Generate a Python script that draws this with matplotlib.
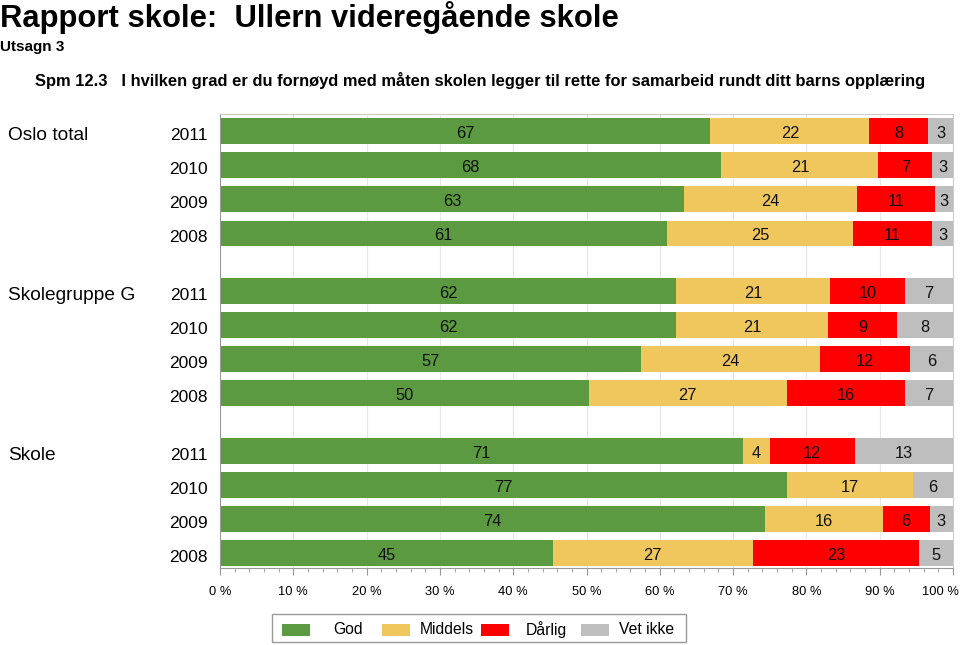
import matplotlib
matplotlib.use("Agg")
import matplotlib.pyplot as plt
from matplotlib.patches import Rectangle
from matplotlib.transforms import ScaledTranslation
import numpy as np

plt.rcParams['font.family'] = ['Liberation Sans', 'DejaVu Sans']

groups = ["Oslo total", "Skolegruppe G", "Skole"]
years = ["2011", "2010", "2009", "2008"]
series = ["God", "Middels", "Dårlig", "Vet ikke"]
colors = ["#5b9a41", "#f0c75c", "#ff0000", "#bebebe"]

# rows: Oslo 2011..2008, Skolegruppe 2011..2008, Skole 2011..2008
god      = [66.9, 68.4, 63.3, 61.0, 62.2, 62.2, 57.4, 50.3, 71.3, 77.4, 74.3, 45.4]
middels  = [21.7, 21.4, 23.6, 25.3, 21.0, 20.8, 24.4, 27.0, 3.7, 17.1, 16.1, 27.3]
darlig   = [8.0, 7.4, 10.6, 10.9, 10.3, 9.4, 12.3, 16.2, 11.6, 0.0, 6.4, 22.7]
vet_ikke = [3.4, 2.8, 2.5, 2.8, 6.5, 7.6, 5.9, 6.5, 13.4, 5.5, 3.2, 4.6]

xticks = [0, 10, 20, 30, 40, 50, 60, 70, 80, 90, 100]

title = "Rapport skole:  Ullern videregående skole"
subtitle = "Utsagn 3"
question = "Spm 12.3   I hvilken grad er du fornøyd med måten skolen legger til rette for samarbeid rundt ditt barns opplæring"

fig = plt.figure(figsize=(9.6, 6.45), dpi=100)
ax = fig.add_axes([220/960, 1-568/645, 733/960, 454/645])

# y positions
gap = 1.7
ypos = []
for g in range(len(groups)):
    for k in range(len(years)):
        ypos.append(g * (len(years) - 1 + gap) + k)
ypos = np.array(ypos)

data = [god, middels, darlig, vet_ikke]
left = np.zeros(len(ypos))
for vals, col in zip(data, colors):
    vals = np.array(vals)
    ax.barh(ypos, vals, left=left, height=0.74, color=col, edgecolor='none', zorder=2)
    for y, l, v in zip(ypos, left, vals):
        if v > 0:
            ax.text(l + v/2, y + 0.08, str(int(v + 0.5)), ha='center', va='center',
                    fontsize=11.8, color='#111111', zorder=3)
    left = left + vals

ax.set_xlim(0, 100)
ax.set_ylim(ypos[-1] + 0.44, -0.5)
ax.set_xticks(xticks)
ax.set_xticklabels([f"{t} %" for t in xticks], fontsize=9.3)
ax.set_xticks(np.arange(0, 101, 2), minor=True)
ax.tick_params(axis='x', which='major', length=5, color='#999999', pad=8)
ax.tick_params(axis='x', which='minor', length=3, color='#999999')
ax.set_yticks(ypos + 0.08)
ax.set_yticklabels(years * len(groups), fontsize=12.5)
ax.tick_params(axis='y', length=0, pad=9)
ax.grid(axis='x', which='major', color='#e8e8e8', linewidth=0.8, zorder=0)
for s in ['left', 'bottom']:
    ax.spines[s].set_color('#999999')
for s in ['top', 'right']:
    ax.spines[s].set_color('#cccccc')

# keep the last x tick label inside the figure
last = ax.get_xticklabels()[-1]
last.set_horizontalalignment('right')
last.set_transform(last.get_transform() + ScaledTranslation(6/100, 0, fig.dpi_scale_trans))

# group labels
for g, name in enumerate(groups):
    y0 = ypos[g * len(years)] + 0.12
    yfig = ax.transData.transform((0, y0))[1]
    fig.text(8/960, yfig / fig.bbox.height, name, ha='left', va='center', fontsize=13.8)

# titles
fig.text(0.0, 1 - 1/645, title, ha='left', va='top', fontsize=22.3, fontweight='bold')
fig.text(0.0, 1 - 40/645, subtitle, ha='left', va='top', fontsize=11, fontweight='bold')
fig.text(35/960, 1 - 72/645, question, ha='left', va='top', fontsize=11.9, fontweight='bold')

# legend
lx0, ly0, lw, lh = 272/960, 1 - 642/645, 414/960, 28/645
fig.patches.append(Rectangle((lx0, ly0), lw, lh, transform=fig.transFigure,
                             facecolor='white', edgecolor='#999999', linewidth=1))
colw = 99.5
for i, (name, col) in enumerate(zip(series, colors)):
    px = 282 + i * colw
    fig.patches.append(Rectangle((px/960, 1 - 636/645), 28/960, 12/645,
                                 transform=fig.transFigure, facecolor=col, edgecolor='none'))
    fig.text((px + 28 + (colw - 28)/2 + 2)/960, 1 - 630/645, name, ha='center', va='center',
             fontsize=11.3)

fig.savefig("out.png", dpi=100)
